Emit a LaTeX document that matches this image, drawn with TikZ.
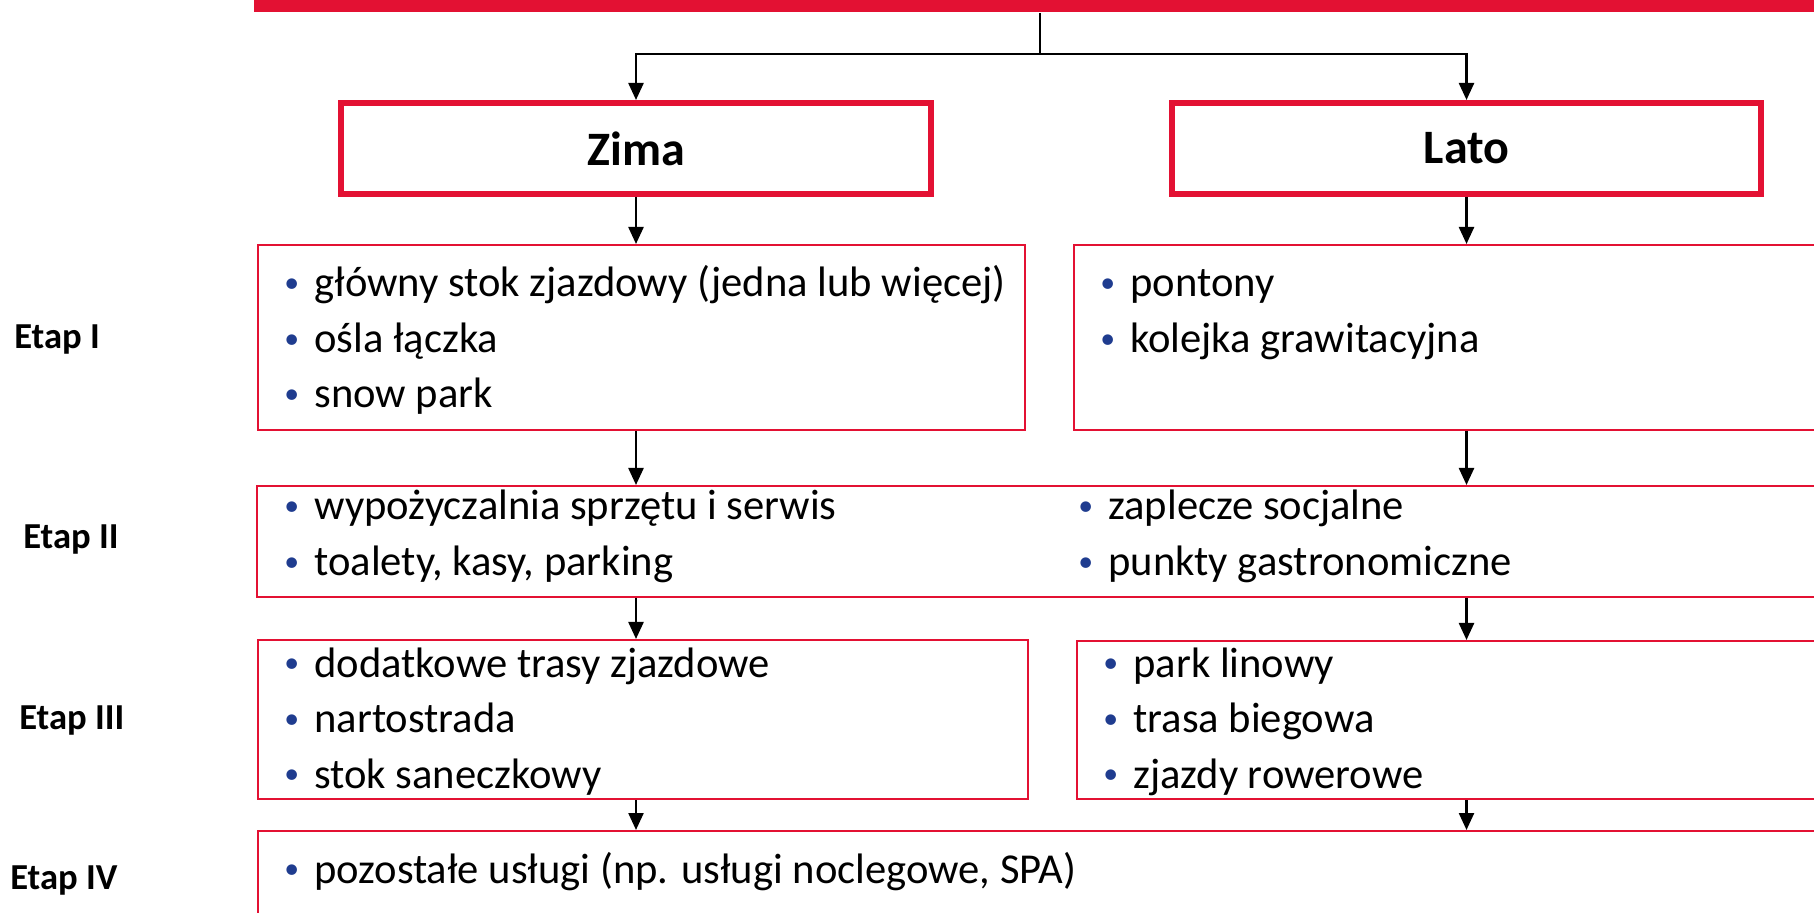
\documentclass[tikz,border=0pt]{standalone}
\usepackage{fontspec}
\setmainfont{Carlito}
\usetikzlibrary{arrows.meta}

\definecolor{czerwien}{HTML}{E31133}
\definecolor{granat}{HTML}{1F3C8F}
\newcommand{\pkt}{\makebox[16.5pt][l]{\hspace{1.5pt}\textcolor{granat}{\raisebox{0.1em}{\scalebox{0.7}{\textbullet}}}}}
\newcommand{\lista}[1]{\begin{tabular}[t]{@{}l@{}}#1\end{tabular}}

\begin{document}
\begin{tikzpicture}[x=0.5pt,y=-0.5pt,
	ramka/.style={draw=czerwien, line width=1pt, inner sep=0pt, anchor=north west},
	sezon/.style={draw=czerwien, line width=3pt, inner sep=0pt, anchor=north west,
		font=\fontsize{24}{28}\selectfont\bfseries},
	tekst/.style={inner sep=0pt, anchor=base west, font=\fontsize{21.3}{27.75}\selectfont},
	etap/.style={inner sep=0pt, anchor=base west, font=\fontsize{18.3}{22}\selectfont\bfseries},
	linia/.style={line width=1.2pt},
	strzalka/.style={line width=1.2pt, -{Triangle[length=8.5pt,width=7.5pt]}}]
	\clip (0,0) rectangle (1814,913);
	% naglowek (widoczny tylko dol paska)
	\node[fill=czerwien, inner sep=0pt, anchor=north west, minimum width=823pt, minimum height=31pt] (naglowek) at (254,-50) {};
	\node[sezon, minimum width=295pt, minimum height=45.5pt] (zima) at (338,100) {Zima};
	\node[sezon, minimum width=294.5pt, minimum height=45.5pt] (lato) at (1169,100) {Lato};
	\coordinate (rozgal) at (1040,54);
	\draw[linia] (naglowek.south -| rozgal) -- (rozgal);
	\draw[strzalka] (rozgal) -| (zima.north);
	\draw[strzalka] (rozgal) -| (lato.north);

	% ramki etapow
	\node[ramka, minimum width=383.5pt, minimum height=92.5pt] (e1l) at (257,244) {};
	\node[ramka, minimum width=413.5pt, minimum height=92.5pt] (e1p) at (1073,244) {};
	\node[ramka, minimum width=822pt, minimum height=55.5pt] (e2) at (256,485) {};
	\node[ramka, minimum width=385pt, minimum height=79.5pt] (e3l) at (257,639) {};
	\node[ramka, minimum width=412pt, minimum height=79pt] (e3p) at (1076,640) {};
	\node[ramka, minimum width=821.5pt, minimum height=65pt] (e4) at (257,830) {};

	\draw[strzalka] (zima.south) -- (zima.south |- e1l.north);
	\draw[strzalka] (lato.south) -- (lato.south |- e1p.north);
	\foreach \a/\b in {e1l/e2, e2/e3l, e3l/e4}
		\draw[strzalka] (\a.south -| zima.south) -- (\b.north -| zima.south);
	\foreach \a/\b in {e1p/e2, e2/e3p, e3p/e4}
		\draw[strzalka] (\a.south -| lato.south) -- (\b.north -| lato.south);

	% tresc
	\node[tekst] (t1l) at (281,297) {\lista{\pkt główny stok zjazdowy (jedna lub więcej)\\ \pkt ośla łączka\\ \pkt snow park}};
	\node[tekst] (t1p) at (1097,297) {\lista{\pkt pontony\\ \pkt kolejka grawitacyjna}};
	\node[tekst] (t2l) at (281,520) {\lista{\pkt wypożyczalnia sprzętu i serwis\\ \pkt toalety, kasy, parking}};
	\node[tekst] (t2p) at (1075,520) {\lista{\pkt zaplecze socjalne\\ \pkt punkty gastronomiczne}};
	\node[tekst] (t3l) at (281,677) {\lista{\pkt dodatkowe trasy zjazdowe\\ \pkt nartostrada\\ \pkt stok saneczkowy}};
	\node[tekst] (t3p) at (1100,677) {\lista{\pkt park linowy\\ \pkt trasa biegowa\\ \pkt zjazdy rowerowe}};
	\node[tekst] (t4) at (281,883) {\lista{\pkt pozostałe usługi (np. usługi noclegowe, SPA)}};

	\node[etap] (l1) at (14,349) {Etap I};
	\node[etap] (l2) at (23,549) {Etap II};
	\node[etap] (l3) at (19,729) {Etap III};
	\node[etap] (l4) at (10,889) {Etap IV};
\end{tikzpicture}
\end{document}
